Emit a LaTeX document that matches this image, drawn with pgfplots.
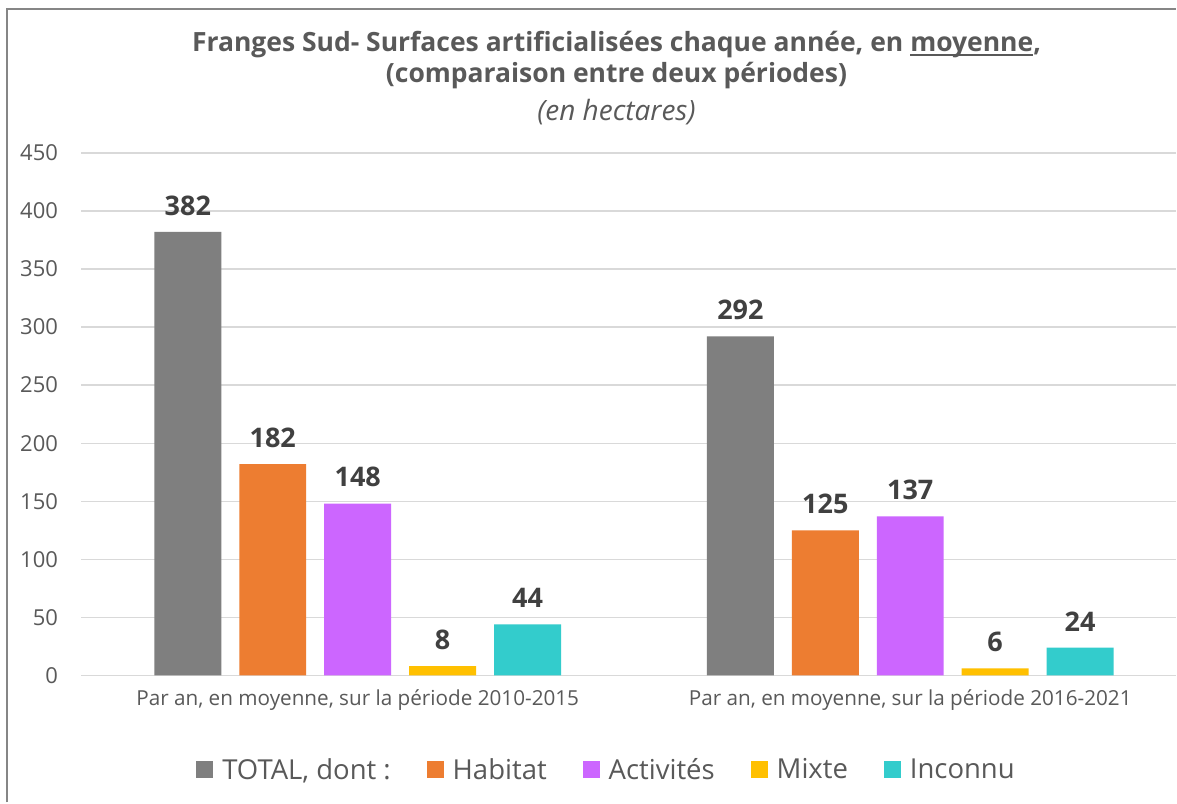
\documentclass[border=0pt]{standalone}
\usepackage{fontspec}
\setmainfont{Open Sans}
\usepackage{pgfplots}
\pgfplotsset{compat=1.18}
\definecolor{cgray}{HTML}{7F7F7F}
\definecolor{corange}{HTML}{ED7D31}
\definecolor{cpurple}{HTML}{CC66FF}
\definecolor{cyellow}{HTML}{FFC000}
\definecolor{cteal}{HTML}{33CCCC}
\definecolor{gridc}{HTML}{D9D9D9}
\definecolor{tickc}{HTML}{595959}
\definecolor{lblc}{HTML}{404040}
\definecolor{framec}{HTML}{868686}
\newcommand{\fs}[1]{\fontsize{#1}{#1}\selectfont}
\newcommand{\myul}[1]{{\setbox0\hbox{#1}\rlap{\rule[-4pt]{\wd0}{1.6pt}}\box0}}
\begin{document}
\begin{tikzpicture}[x=1pt,y=1pt]
\path[fill=white] (0pt,0pt) rectangle (1177pt,803pt);
\draw[color=framec, line width=2pt] (7pt,0pt) -- (7pt,794pt) -- (1177pt,794pt);
\node[font=\bfseries\fs{26.5}, text=tickc, anchor=base] at (617pt,751pt) {Franges Sud- Surfaces artificialisées chaque année, en \myul{moyenne},};
\node[font=\bfseries\fs{26.5}, text=tickc, anchor=base] at (617pt,720pt) {(comparaison entre deux périodes)};
\node[font=\itshape\fs{28}, text=tickc, anchor=base] at (617pt,682pt) {(en hectares)};
\begin{axis}[
  at={(81.5pt,127pt)}, anchor=south west,
  scale only axis, width=1095.5pt, height=523pt,
  xmin=81.5, xmax=1177, ymin=0, ymax=450,
  ybar, bar width=67, bar shift=0pt,
  ytick={0,50,...,450},
  xtick={358,911},
  xticklabels={{Par an, en moyenne, sur la période 2010-2015}, {Par an, en moyenne, sur la période 2016-2021}},
  ymajorgrids, grid style={draw=gridc, line width=1.3pt},
  major tick length=0pt,
  axis x line*=bottom, axis y line*=left, axis line style={draw=none},
  /pgf/number format/assume math mode=true,
  yticklabel style={font=\fs{22}, text=tickc, xshift=-20pt},
  xticklabel style={font=\fs{20.7}, text=tickc, yshift=-11pt},
  nodes near coords,
  every node near coord/.append style={font=\bfseries\fs{27}, text=lblc, yshift=13pt},
  legend columns=-1,
  legend style={at={(0.4797,-0.1797)}, anchor=center, draw=none, fill=none,
    font=\fs{27.5}, text=tickc,
    /tikz/every odd column/.append style={column sep=7pt},
    /tikz/every even column/.append style={column sep=34pt}},
  legend image code/.code={\fill[#1] (0pt,-8.5pt) rectangle (17pt,8.5pt);},
]
\addplot[fill=cgray, draw=none] coordinates {(188,382) (741,292)};
\addplot[fill=corange, draw=none] coordinates {(273,182) (826,125)};
\addplot[fill=cpurple, draw=none] coordinates {(358,148) (911,137)};
\addplot[fill=cyellow, draw=none] coordinates {(443,8) (996,6)};
\addplot[fill=cteal, draw=none] coordinates {(528,44) (1081,24)};
\legend{{TOTAL, dont :\ },Habitat,Activités,Mixte,Inconnu}
\end{axis}
\end{tikzpicture}
\end{document}
